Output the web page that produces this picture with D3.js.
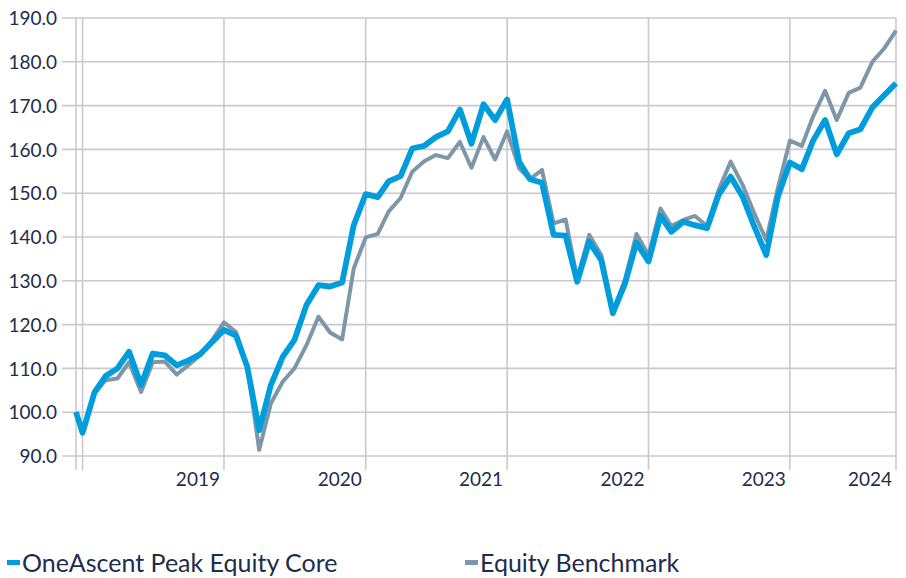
<!DOCTYPE html>
<html>
<head>
<meta charset="utf-8">
<script src="https://cdn.jsdelivr.net/npm/d3@7"></script>
<style>
  body { margin: 0; background: #fff; }
  svg { display: block; font-family: Lato, "Noto Sans", sans-serif; }
</style>
</head>
<body>
<svg id="chart" width="906" height="578"></svg>
<script>
// month-end dates (first point is the inception date)
const dates = [
  "2018-12-14", "2018-12-31",
  "2019-01-31", "2019-02-28", "2019-03-31", "2019-04-30", "2019-05-31", "2019-06-30",
  "2019-07-31", "2019-08-31", "2019-09-30", "2019-10-31", "2019-11-30", "2019-12-31",
  "2020-01-31", "2020-02-29", "2020-03-31", "2020-04-30", "2020-05-31", "2020-06-30",
  "2020-07-31", "2020-08-31", "2020-09-30", "2020-10-31", "2020-11-30", "2020-12-31",
  "2021-01-31", "2021-02-28", "2021-03-31", "2021-04-30", "2021-05-31", "2021-06-30",
  "2021-07-31", "2021-08-31", "2021-09-30", "2021-10-31", "2021-11-30", "2021-12-31",
  "2022-01-31", "2022-02-28", "2022-03-31", "2022-04-30", "2022-05-31", "2022-06-30",
  "2022-07-31", "2022-08-31", "2022-09-30", "2022-10-31", "2022-11-30", "2022-12-31",
  "2023-01-31", "2023-02-28", "2023-03-31", "2023-04-30", "2023-05-31", "2023-06-30",
  "2023-07-31", "2023-08-31", "2023-09-30", "2023-10-31", "2023-11-30", "2023-12-31",
  "2024-01-31", "2024-02-29", "2024-03-31", "2024-04-30", "2024-05-31", "2024-06-30",
  "2024-07-31", "2024-08-31", "2024-09-30"
];

const peakEquityCore = [
  100.0, 95.3,
  104.6, 108.2, 110.0, 113.8, 106.2, 113.4, 113.0, 110.7, 111.8, 113.3, 116.0, 118.8,
  117.5, 110.4, 95.9, 106.2, 112.7, 116.5, 124.5, 129.0, 128.7, 129.6, 142.7, 149.8,
  149.1, 152.7, 153.9, 160.2, 160.8, 162.8, 164.1, 169.1, 161.3, 170.3, 166.7, 171.4,
  157.2, 153.2, 152.4, 140.5, 140.3, 129.8, 138.9, 134.7, 122.6, 129.3, 138.7, 134.4,
  144.8, 141.2, 143.5, 142.7, 142.0, 149.6, 153.8, 149.2, 142.4, 135.9, 149.2, 157.0,
  155.5, 162.0, 166.7, 158.9, 163.7, 164.6, 169.6, 172.4, 175.1
];

const equityBenchmark = [
  100.0, 95.3,
  104.3, 107.3, 107.7, 111.4, 104.6, 111.4, 111.6, 108.6, 110.7, 113.0, 116.4, 120.5,
  118.3, 110.5, 91.4, 102.0, 107.0, 110.0, 115.3, 121.8, 118.2, 116.6, 132.8, 139.9,
  140.7, 145.8, 148.9, 154.9, 157.3, 158.7, 158.0, 161.7, 155.8, 162.8, 157.7, 164.1,
  155.7, 153.2, 155.3, 143.1, 144.0, 130.5, 140.5, 135.9, 123.0, 130.2, 140.7, 135.9,
  146.5, 142.5, 143.9, 144.8, 142.5, 150.7, 157.2, 151.9, 145.4, 139.3, 151.2, 162.0,
  160.8, 167.5, 173.4, 166.7, 172.9, 174.1, 180.0, 183.1, 187.1
];

const yTicks = [90, 100, 110, 120, 130, 140, 150, 160, 170, 180, 190];
const yearLabels = ["2019", "2020", "2021", "2022", "2023", "2024"];
const seriesNames = ["OneAscent Peak Equity Core", "Equity Benchmark"];

const colors = { core: "#009ddd", bench: "#7d97a9", grid: "#c9cad1", text: "#1f2c4c" };

const parse = d3.timeParse("%Y-%m-%d");
const dateObjs = dates.map(parse);

const svg = d3.select("#chart");
const plotLeft = 76, plotRight = 896, plotTop = 18, plotBottom = 456;

const x = d3.scaleTime().domain(d3.extent(dateObjs)).range([plotLeft, plotRight]);
const y = d3.scaleLinear().domain([90, 190]).range([plotBottom, plotTop]);

// last date of each year present in the data -> vertical gridlines
const yearEnds = d3.rollups(dateObjs, v => d3.max(v), d => d.getFullYear()).map(d => d[1]);

const grid = svg.append("g");
grid.selectAll(".hgrid")
  .data(yTicks)
  .enter()
  .append("line")
  .attr("x1", plotLeft - 14)
  .attr("x2", plotRight)
  .attr("y1", d => y(d))
  .attr("y2", d => y(d))
  .attr("stroke", colors.grid)
  .attr("stroke-width", 1.6);

grid.selectAll(".vgrid")
  .data([dateObjs[0]].concat(yearEnds))
  .enter()
  .append("line")
  .attr("x1", d => x(d))
  .attr("x2", d => x(d))
  .attr("y1", plotTop)
  .attr("y2", plotBottom + 14)
  .attr("stroke", colors.grid)
  .attr("stroke-width", 1.6);

// y axis labels
const yAxis = svg.append("g")
  .attr("transform", `translate(${plotLeft - 19},0)`)
  .call(d3.axisLeft(y).tickValues(yTicks).tickFormat(d3.format(".1f")).tickSize(0).tickPadding(0));
yAxis.select(".domain").remove();
yAxis.selectAll("text")
  .attr("fill", colors.text)
  .style("font-size", "19px")
  .style("font-family", "Lato, sans-serif")
  .attr("dy", "0.35em");

// x axis labels: right-aligned just left of each year-end gridline
const labelDates = yearLabels.map(lbl => yearEnds.find(d => d.getFullYear() === +lbl));
svg.append("g")
  .selectAll("text")
  .data(yearLabels)
  .enter()
  .append("text")
  .attr("x", (d, i) => x(labelDates[i]) - 4)
  .attr("y", 486)
  .attr("text-anchor", "end")
  .attr("fill", colors.text)
  .style("font-size", "19px")
  .text(d => d);

const line = d3.line()
  .x((d, i) => x(dateObjs[i]))
  .y(d => y(d));

svg.append("path")
  .datum(equityBenchmark)
  .attr("d", line)
  .attr("fill", "none")
  .attr("stroke", colors.bench)
  .attr("stroke-width", 4)
  .attr("stroke-linejoin", "round");

svg.append("path")
  .datum(peakEquityCore)
  .attr("d", line)
  .attr("fill", "none")
  .attr("stroke", colors.core)
  .attr("stroke-width", 5.8)
  .attr("stroke-linejoin", "round");

// legend
const legend = svg.append("g");
const legendX = [7, 465];
const legendColors = [colors.core, colors.bench];
seriesNames.forEach((name, i) => {
  legend.append("rect")
    .attr("x", legendX[i])
    .attr("y", 560)
    .attr("width", 13)
    .attr("height", 5)
    .attr("fill", legendColors[i]);
  legend.append("text")
    .attr("x", legendX[i] + 15)
    .attr("y", 572)
    .attr("fill", colors.text)
    .style("font-size", "25px")
    .text(name);
});
</script>
</body>
</html>
